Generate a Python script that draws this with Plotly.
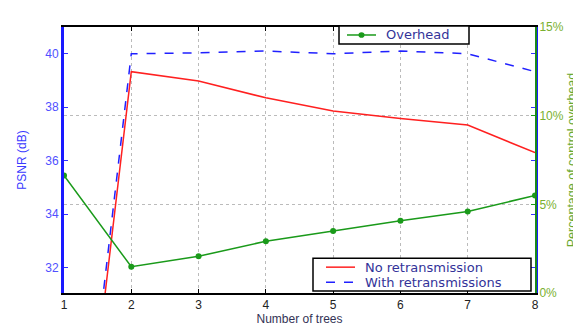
import plotly.graph_objects as go

trees = [1, 2, 3, 4, 5, 6, 7, 8]
psnr_no_retx = [18.0, 39.33, 38.98, 38.35, 37.86, 37.58, 37.33, 36.3]
psnr_with_retx = [18.5, 40.0, 40.03, 40.1, 40.0, 40.1, 40.0, 39.33]
overhead_pct = [6.63, 1.48, 2.07, 2.92, 3.5, 4.08, 4.6, 5.5]

RED, BLUE, GREEN = "#ff2020", "#2020ff", "#1a9a1a"
W, H = 581, 325
ML, MR, MT, MB = 56, 54, 13, 29
PW, PH = W - ML - MR, H - MT - MB


def px(x):
    return (x - ML) / PW


def py(y):
    return (H - MB - y) / PH


fig = go.Figure()
fig.add_trace(go.Scatter(x=trees, y=psnr_no_retx, mode="lines", name="No retransmission",
                         line=dict(color=RED, width=1.5)))
fig.add_trace(go.Scatter(x=trees, y=psnr_with_retx, mode="lines", name="With retransmissions",
                         line=dict(color=BLUE, width=1.5, dash="dash")))
fig.add_trace(go.Scatter(x=trees, y=overhead_pct, mode="lines+markers", name="Overhead",
                         line=dict(color=GREEN, width=1.5), marker=dict(size=6, color=GREEN),
                         yaxis="y2", cliponaxis=False))

shapes = []
annos = []
legfont = dict(family="DejaVu Sans", size=13, color="#333399")
# Overhead legend box
shapes.append(dict(type="rect", xref="paper", yref="paper", x0=px(331), x1=px(461), y0=py(31), y1=py(12),
                   fillcolor="white", line=dict(color="black", width=1.5), layer="above"))
shapes.append(dict(type="line", xref="paper", yref="paper", x0=px(339), x1=px(368), y0=py(21.5), y1=py(21.5),
                   line=dict(color=GREEN, width=1.5), layer="above"))
shapes.append(dict(type="circle", xref="paper", yref="paper", x0=px(350.5), x1=px(356.5), y0=py(24.5), y1=py(18.5),
                   fillcolor=GREEN, line=dict(color=GREEN, width=0), layer="above"))
annos.append(dict(text="Overhead", xref="paper", yref="paper", x=px(376), y=py(21.5), xanchor="left",
                  yanchor="middle", showarrow=False, font=legfont))
# Retransmission legend box
shapes.append(dict(type="rect", xref="paper", yref="paper", x0=px(305), x1=px(523), y0=py(294), y1=py(259),
                   fillcolor="white", line=dict(color="black", width=1.5), layer="above"))
shapes.append(dict(type="line", xref="paper", yref="paper", x0=px(318), x1=px(347), y0=py(268.5), y1=py(268.5),
                   line=dict(color=RED, width=1.5), layer="above"))
shapes.append(dict(type="line", xref="paper", yref="paper", x0=px(318), x1=px(347), y0=py(284.5), y1=py(284.5),
                   line=dict(color=BLUE, width=1.5, dash="dash"), layer="above"))
annos.append(dict(text="No retransmission", xref="paper", yref="paper", x=px(355), y=py(268.5), xanchor="left",
                  yanchor="middle", showarrow=False, font=legfont))
annos.append(dict(text="With retransmissions", xref="paper", yref="paper", x=px(355), y=py(284.5), xanchor="left",
                  yanchor="middle", showarrow=False, font=legfont))

fig.update_layout(
    width=W, height=H,
    showlegend=False,
    margin=dict(l=ML, r=MR, t=MT, b=MB),
    plot_bgcolor="white", paper_bgcolor="white",
    font=dict(family="Liberation Sans, Arial", size=12, color="black"),
    shapes=shapes, annotations=annos,
    xaxis=dict(range=[1, 8], tickvals=trees, ticks="inside", ticklen=4, tickcolor="black",
               showline=True, linecolor="black", linewidth=1.5, mirror="ticks",
               showgrid=True, gridcolor="#bbbbbb", griddash="dot", gridwidth=1,
               zeroline=False, tickfont=dict(size=12, color="#222222"),
               title=dict(text="Number of trees", font=dict(size=12, color="#333355"), standoff=0)),
    yaxis=dict(range=[31.05, 41.0], tickvals=[32, 34, 36, 38, 40], ticks="inside", ticklen=4,
               tickcolor="#3333ff", showline=True, linecolor="#1a1aff", linewidth=3, mirror="ticks",
               showgrid=False, zeroline=False, tickfont=dict(size=12, color="#5050ff"),
               title=dict(text="PSNR (dB)", font=dict(size=12, color="#3a3aff"), standoff=17)),
    yaxis2=dict(range=[0, 15], tickvals=[0, 5, 10, 15], ticktext=["0%", "5%", "10%", "15%"],
                overlaying="y", side="right", ticks="inside", ticklen=4, tickcolor=GREEN,
                showline=True, linecolor="#1a8a1a", linewidth=2,
                showgrid=True, gridcolor="#bbbbbb", griddash="dot", gridwidth=1, zeroline=False,
                tickfont=dict(size=12, color="#7ab030"),
                title=dict(text="Percentage of control overhead", font=dict(size=12.5, color="#6aa830"), standoff=5)),
)

fig.write_html("out.html")
